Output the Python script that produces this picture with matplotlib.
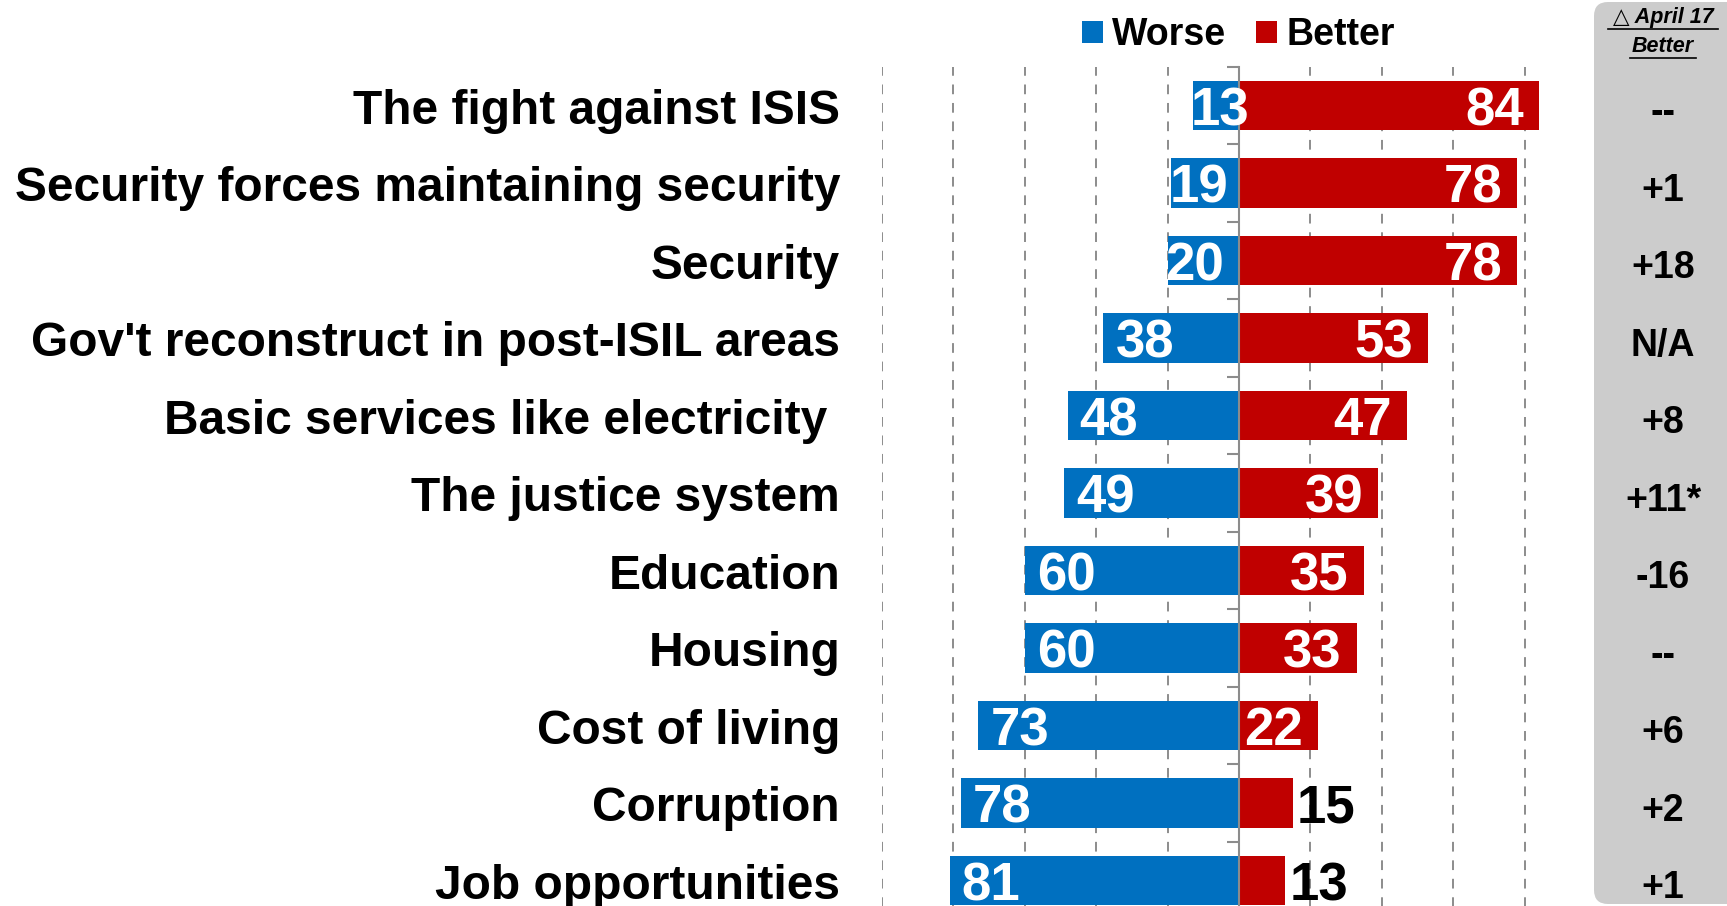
import numpy as np
import matplotlib.pyplot as plt
import matplotlib.transforms as mtransforms
from matplotlib.patches import FancyBboxPatch
from matplotlib.ticker import FixedLocator

categories = ["The fight against ISIS", "Security forces maintaining security", "Security",
              "Gov't reconstruct in post-ISIL areas", "Basic services like electricity ",
              "The justice system", "Education", "Housing", "Cost of living",
              "Corruption", "Job opportunities"]
worse = [13, 19, 20, 38, 48, 49, 60, 60, 73, 78, 81]
better = [84, 78, 78, 53, 47, 39, 35, 33, 22, 15, 13]
change = ["--", "+1", "+18", "N/A", "+8", "+11*", "-16", "--", "+6", "+2", "+1"]

BLUE = "#0070C0"
RED = "#C00000"
plt.rcParams['font.family'] = ['Liberation Sans', 'DejaVu Sans']

fig = plt.figure(figsize=(17.27, 9.06), dpi=100)
ax = fig.add_axes([882 / 1727, -0.0146, 714 / 1727, 0.941])

y = np.arange(len(categories))
h_w = ax.barh(y, -np.array(worse), height=0.64, color=BLUE, zorder=2, label="Worse")
h_b = ax.barh(y, better, height=0.64, color=RED, zorder=2, label="Better")

ax.set_xlim(-100, 100)
ax.set_ylim(len(categories) - 0.5, -0.5)

# dashed vertical gridlines
for gx in range(-100, 100, 20):
    if gx != 0:
        ax.axvline(gx, color="#8c8c8c", lw=1.4, ls=(0, (5, 4.5)), zorder=1)

for s in ["top", "right", "bottom"]:
    ax.spines[s].set_visible(False)
ax.spines["left"].set_position(("data", 0))
ax.spines["left"].set_color("#8c8c8c")
ax.spines["left"].set_linewidth(1.5)
ax.spines["left"].set_zorder(3)
ax.set_xticks([])
ax.yaxis.set_major_locator(FixedLocator(y))
ax.yaxis.set_minor_locator(FixedLocator(np.arange(len(categories) + 1) - 0.5))
ax.tick_params(axis="y", which="both", direction="out", length=9, width=1.5,
               color="#8c8c8c", labelleft=False)

down = mtransforms.ScaledTranslation(0, -6 / 100, fig.dpi_scale_trans)

# category labels
tr = ax.get_yaxis_transform() + down
for yi, cat in zip(y, categories):
    ax.text(-0.0588, yi, cat, transform=tr, ha="right", va="center",
            fontsize=34.5, fontweight="bold", color="black")

# value labels
vfont = dict(fontsize=38, fontweight="bold", va="center")
for yi, w, b in zip(y, worse, better):
    pad = 12 if w >= 30 else -2
    ax.annotate(str(w), (-w, yi), xytext=(pad, -6), textcoords="offset pixels",
                ha="left", color="white", zorder=4, **vfont)
    if b >= 20:
        ax.annotate(str(b), (b, yi), xytext=(-15, -6), textcoords="offset pixels",
                    ha="right", color="white", zorder=4, **vfont)
    else:
        ax.annotate(str(b), (b, yi), xytext=(4, -6), textcoords="offset pixels",
                    ha="left", color="black", zorder=4, **vfont)

# legend
fig.legend(handles=[h_w, h_b], loc="center", bbox_to_anchor=(0.717, 0.961), ncol=2,
           frameon=False, prop=dict(size=27, weight="bold"), handlelength=0.55,
           handleheight=0.55, handletextpad=0.25, columnspacing=0.8)

# right side panel
panel = FancyBboxPatch((15.94, 0.02), 1.6, 9.02, boxstyle="round,pad=0,rounding_size=0.14",
                       transform=fig.dpi_scale_trans, facecolor="#CCCCCC", edgecolor="none",
                       zorder=1)
fig.add_artist(panel)
fig.text(1663 / 1727, 1 - 18 / 906, "\u25b3 April 17", ha="center", va="center",
         fontsize=15.5, fontweight="bold", style="italic", zorder=3)
fig.text(1663 / 1727, 1 - 47 / 906, "Better", ha="center", va="center",
         fontsize=15.5, fontweight="bold", style="italic", zorder=3)
for yy, ww in [(1 - 29 / 906, 110), (1 - 58 / 906, 66)]:
    fig.add_artist(plt.Line2D([(1663 - ww / 2) / 1727, (1663 + ww / 2) / 1727], [yy, yy],
                              color="black", lw=1.2, transform=fig.transFigure, zorder=3))
ptr = mtransforms.blended_transform_factory(fig.transFigure, ax.transData) + \
    mtransforms.ScaledTranslation(0, -8 / 100, fig.dpi_scale_trans)
for yi, c in zip(y, change):
    fig.text(1663 / 1727, yi, c, transform=ptr, ha="center", va="center",
             fontsize=27, fontweight="bold", zorder=3)

fig.savefig("out.png", dpi=100)
